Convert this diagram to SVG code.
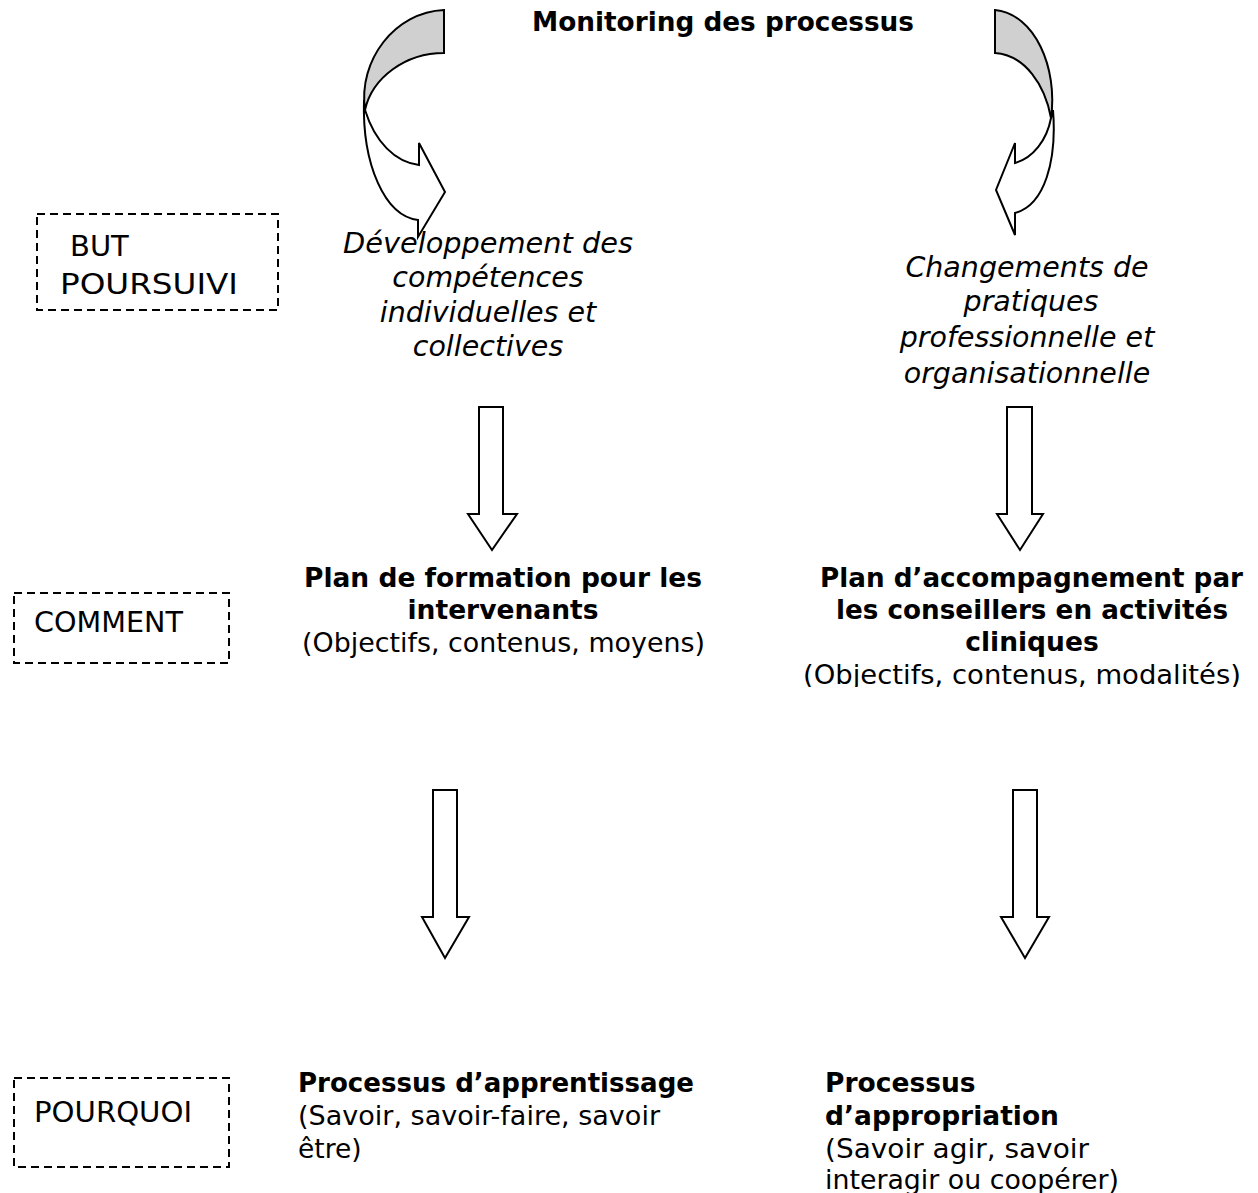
<svg xmlns="http://www.w3.org/2000/svg" width="1258" height="1193" viewBox="0 0 1258 1193">
<style>
.b{font-family:"DejaVu Sans",Verdana,sans-serif;font-weight:bold;font-size:26.5px;fill:#000}
.r{font-family:"DejaVu Sans",Verdana,sans-serif;font-size:26.5px;fill:#000}
.i{font-family:"DejaVu Sans",Verdana,sans-serif;font-style:italic;font-size:28.5px;fill:#000}
.lbl{font-family:"DejaVu Sans",Verdana,sans-serif;font-size:29px;fill:#000}
.box{fill:none;stroke:#000;stroke-width:2;stroke-dasharray:8 5}
.arr{fill:#fff;stroke:#000;stroke-width:2;stroke-linejoin:miter}
.back{fill:#d0d0d0;stroke:#000;stroke-width:2}
</style>
<defs>
<clipPath id="clipR"><rect x="780" y="560" width="478" height="127"/></clipPath>
</defs>
<rect width="1258" height="1193" fill="#fff"/>

<g id="title"><text class="b" x="532" y="31" textLength="382" lengthAdjust="spacingAndGlyphs">Monitoring des processus</text></g>

<g id="connectors">
<g id="curve-left">
<path class="arr" d="M364,100 C362,165 385,216 418,220 L418,237 L445,192 L419,143 L419,165 C395,162 375,142 365,110 Z"/>
<path class="back" d="M444,10 L444,53 C405,53 372,78 365,110 C358,60 395,12 444,10 Z"/>
</g>
<g id="curve-right">
<path class="arr" d="M1053,110 C1057,160 1045,205 1015,213 L1015,235 L996,190 L1015,143 L1015,163 C1033,158 1047,140 1051,118 Z"/>
<path class="back" d="M995,10 L995,53 C1025,55 1045,85 1051,118 C1058,68 1035,14 995,10 Z"/>
</g>
<path class="arr" d="M479,407 L503,407 L503,514 L517,514 L492,550 L468,514 L479,514 Z"/>
<path class="arr" d="M1007,407 L1032,407 L1032,514 L1043,514 L1020,550 L997,514 L1007,514 Z"/>
<path class="arr" d="M433,790 L457,790 L457,917 L469,917 L445,958 L422,917 L433,917 Z"/>
<path class="arr" d="M1013,790 L1037,790 L1037,917 L1049,917 L1025,958 L1001,917 L1013,917 Z"/>
</g>

<g id="label-but">
<rect class="box" x="37" y="214" width="241" height="96"/>
<text class="lbl" x="70" y="256">BUT</text>
<text class="lbl" x="60" y="294" textLength="178" lengthAdjust="spacingAndGlyphs">POURSUIVI</text>
</g>
<g id="label-comment">
<rect class="box" x="14" y="593" width="215" height="70"/>
<text class="lbl" x="34" y="632" textLength="149" lengthAdjust="spacingAndGlyphs">COMMENT</text>
</g>
<g id="label-pourquoi">
<rect class="box" x="14" y="1078" width="215" height="89"/>
<text class="lbl" x="34" y="1122" textLength="158" lengthAdjust="spacingAndGlyphs">POURQUOI</text>
</g>

<g id="goal-left">
<text class="i" x="343" y="253" textLength="290" lengthAdjust="spacingAndGlyphs">Développement des</text>
<text class="i" x="488" y="287" text-anchor="middle">compétences</text>
<text class="i" x="488" y="322" text-anchor="middle">individuelles et</text>
<text class="i" x="488" y="356" text-anchor="middle">collectives</text>
</g>
<g id="goal-right">
<text class="i" x="1027" y="277" text-anchor="middle">Changements de</text>
<text class="i" x="1031" y="311" text-anchor="middle">pratiques</text>
<text class="i" x="1027" y="347" text-anchor="middle">professionnelle et</text>
<text class="i" x="1027" y="383" text-anchor="middle">organisationnelle</text>
</g>

<g id="how-left">
<text class="b" x="304" y="587" textLength="398" lengthAdjust="spacingAndGlyphs">Plan de formation pour les</text>
<text class="b" x="503" y="619" text-anchor="middle">intervenants</text>
<text class="r" x="302" y="652" textLength="403" lengthAdjust="spacingAndGlyphs">(Objectifs, contenus, moyens)</text>
</g>
<g id="how-right">
<text class="b" x="820" y="587" textLength="423" lengthAdjust="spacingAndGlyphs">Plan d’accompagnement par</text>
<text class="b" x="836" y="619" textLength="392" lengthAdjust="spacingAndGlyphs">les conseillers en activités</text>
<text class="b" x="1032" y="651" text-anchor="middle">cliniques</text>
<text class="r" x="803" y="684" textLength="438" lengthAdjust="spacingAndGlyphs" clip-path="url(#clipR)">(Objectifs, contenus, modalités)</text>
</g>

<g id="why-left">
<text class="b" x="298" y="1092" textLength="396" lengthAdjust="spacingAndGlyphs">Processus d’apprentissage</text>
<text class="r" x="298" y="1125" textLength="362" lengthAdjust="spacingAndGlyphs">(Savoir, savoir-faire, savoir</text>
<text class="r" x="298" y="1158">être)</text>
</g>
<g id="why-right">
<text class="b" x="825" y="1092">Processus</text>
<text class="b" x="825" y="1125">d’appropriation</text>
<text class="r" x="825" y="1158" textLength="264" lengthAdjust="spacingAndGlyphs">(Savoir agir, savoir</text>
<text class="r" x="825" y="1189" textLength="294" lengthAdjust="spacingAndGlyphs">interagir ou coopérer)</text>
</g>
</svg>
